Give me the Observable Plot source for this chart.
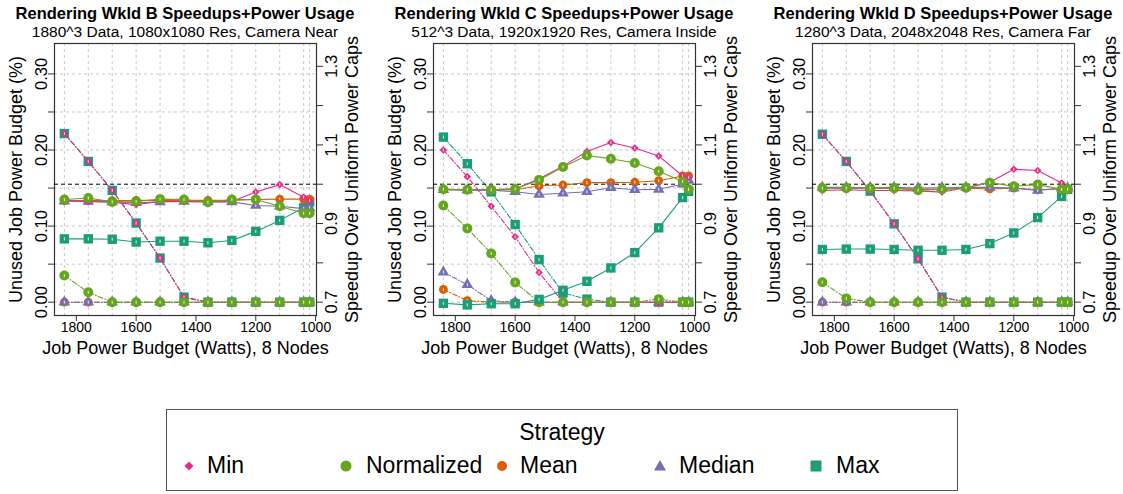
<!DOCTYPE html>
<html><head><meta charset="utf-8">
<script src="https://cdn.jsdelivr.net/npm/d3@7"></script>
<script src="https://cdn.jsdelivr.net/npm/@observablehq/plot@0.6"></script>
<style>
html,body{margin:0;padding:0;background:#fff;width:1123px;height:494px;overflow:hidden;font-family:"Liberation Sans",Arial,sans-serif;}
#root{position:relative;width:1123px;height:494px;}
.panel{position:absolute;top:0;width:364px;height:360px;}
.panel svg{position:absolute;left:0;top:0;}
.t1{position:absolute;left:-15px;width:400px;text-align:center;font-weight:bold;font-size:16.5px;line-height:18px;top:3.5px;white-space:nowrap;color:#000;}
.t2{position:absolute;left:-15px;width:400px;text-align:center;font-size:15.5px;line-height:18px;top:23px;white-space:nowrap;color:#000;}
#legend{position:absolute;left:166px;top:409px;width:790px;height:80px;border:1.5px solid #555;}
.lt{position:absolute;font-size:23px;line-height:26px;white-space:nowrap;color:#000;}
.ls{position:absolute;}
</style></head><body><div id="root"></div>
<script>
// ---------- data ----------
const watts = [1840, 1760, 1680, 1600, 1520, 1440, 1360, 1280, 1200, 1120, 1040, 1020];
const xTicks = [1800, 1600, 1400, 1200, 1000];
const leftTicks = [0, 0.05, 0.10, 0.15, 0.20, 0.25, 0.30];
const leftLabels = [0, 0.10, 0.20, 0.30];
const rightTicks = [0.7, 0.8, 0.9, 1.0, 1.1, 1.2, 1.3];
const rightLabels = [0.7, 0.9, 1.1, 1.3];
const strategies = ["Min", "Normalized", "Mean", "Median", "Max"];
const strategyColors = ["#E7298A", "#66A61E", "#D95F02", "#7570B3", "#1B9E77"];
const titles = ["Rendering Wkld B Speedups+Power Usage", "Rendering Wkld C Speedups+Power Usage", "Rendering Wkld D Speedups+Power Usage"];
const subtitles = ["1880^3 Data, 1080x1080 Res, Camera Near", "512^3 Data, 1920x1920 Res, Camera Inside", "1280^3 Data, 2048x2048 Res, Camera Far"];

// Workload B
const bSpeedMin  = [0.959, 0.956, 0.954, 0.948, 0.956, 0.956, 0.955, 0.956, 0.980, 0.999, 0.967, 0.959];
const bSpeedNorm = [0.961, 0.965, 0.955, 0.956, 0.962, 0.961, 0.954, 0.961, 0.961, 0.944, 0.926, 0.926];
const bSpeedMean = [0.958, 0.959, 0.958, 0.959, 0.959, 0.959, 0.959, 0.959, 0.961, 0.962, 0.962, 0.962];
const bSpeedMed  = [0.957, 0.956, 0.955, 0.953, 0.955, 0.956, 0.955, 0.955, 0.946, 0.944, 0.938, 0.940];
const bSpeedMax  = [0.861, 0.861, 0.860, 0.853, 0.855, 0.855, 0.851, 0.857, 0.880, 0.908, 0.940, 0.955];
const bUnusedMin  = [0.2216, 0.185, 0.147, 0.104, 0.058, 0.0066, 0, 0, 0, 0, 0, 0];
const bUnusedNorm = [0.035, 0.013, 0, 0, 0, 0, 0, 0, 0, 0, 0, 0];
const bUnusedMean = [0, 0, 0, 0, 0, 0, 0, 0, 0, 0, 0, 0];
const bUnusedMed  = [0, 0, 0, 0, 0, 0, 0, 0, 0, 0, 0, 0];
const bUnusedMax  = [0.2216, 0.185, 0.147, 0.104, 0.058, 0.0066, 0, 0, 0, 0, 0, 0];

// Workload C
const cSpeedMin  = [0.987, 0.986, 0.986, 0.988, 1.014, 1.046, 1.083, 1.106, 1.092, 1.072, 1.021, 1.018];
const cSpeedNorm = [0.987, 0.986, 0.986, 0.988, 1.011, 1.044, 1.073, 1.065, 1.054, 1.033, 1.007, 0.987];
const cSpeedMean = [0.987, 0.986, 0.986, 0.986, 0.996, 0.998, 1.004, 1.004, 1.005, 1.009, 1.021, 1.021];
const cSpeedMed  = [0.986, 0.985, 0.985, 0.981, 0.974, 0.977, 0.981, 0.991, 0.986, 0.987, 1.000, 1.010];
const cSpeedMax  = [0.697, 0.693, 0.696, 0.696, 0.707, 0.730, 0.753, 0.787, 0.826, 0.889, 0.966, 0.982];
const cUnusedMin  = [0.200, 0.165, 0.126, 0.086, 0.039, 0, 0, 0, 0, 0, 0, 0];
const cUnusedNorm = [0.127, 0.097, 0.064, 0.026, 0, 0, 0, 0, 0, 0.004, 0, 0];
const cUnusedMean = [0.0167, 0.002, 0, 0, 0, 0, 0, 0, 0, 0, 0, 0];
const cUnusedMed  = [0.0395, 0.023, 0.002, 0, 0, 0, 0, 0, 0, 0, 0, 0];
const cUnusedMax  = [0.217, 0.182, 0.145, 0.102, 0.056, 0.012, 0.004, 0, 0, 0, 0, 0];

// Workload D
const dSpeedMin  = [0.984, 0.986, 0.984, 0.984, 0.983, 0.980, 0.991, 1.005, 1.038, 1.035, 1.003, 0.988];
const dSpeedNorm = [0.990, 0.990, 0.990, 0.990, 0.985, 0.987, 0.991, 1.004, 0.995, 0.999, 0.987, 0.987];
const dSpeedMean = [0.990, 0.990, 0.989, 0.989, 0.987, 0.987, 0.990, 0.988, 0.990, 0.986, 0.988, 0.988];
const dSpeedMed  = [0.992, 0.992, 0.991, 0.992, 0.990, 0.991, 0.992, 0.992, 0.990, 0.984, 0.990, 0.990];
const dSpeedMax  = [0.834, 0.835, 0.835, 0.834, 0.832, 0.832, 0.834, 0.849, 0.876, 0.915, 0.969, 0.987];
const dUnusedMin  = [0.2207, 0.185, 0.146, 0.103, 0.057, 0.0066, 0, 0, 0, 0, 0, 0];
const dUnusedNorm = [0.0263, 0.005, 0, 0, 0, 0, 0, 0, 0, 0, 0, 0];
const dUnusedMean = [0, 0, 0, 0, 0, 0, 0, 0, 0, 0, 0, 0];
const dUnusedMed  = [0, 0, 0, 0, 0, 0, 0, 0, 0, 0, 0, 0];
const dUnusedMax  = [0.2207, 0.185, 0.146, 0.103, 0.057, 0.0066, 0, 0, 0, 0, 0, 0];

// ---------- build ----------
const panels = [
  {speed: [bSpeedMin, bSpeedNorm, bSpeedMean, bSpeedMed, bSpeedMax], unused: [bUnusedMin, bUnusedNorm, bUnusedMean, bUnusedMed, bUnusedMax]},
  {speed: [cSpeedMin, cSpeedNorm, cSpeedMean, cSpeedMed, cSpeedMax], unused: [cUnusedMin, cUnusedNorm, cUnusedMean, cUnusedMed, cUnusedMax]},
  {speed: [dSpeedMin, dSpeedNorm, dSpeedMean, dSpeedMed, dSpeedMax], unused: [dUnusedMin, dUnusedNorm, dUnusedMean, dUnusedMed, dUnusedMax]}
];

function hasFont(name) {
  const c = document.createElement("canvas").getContext("2d");
  c.font = "40px monospace";
  const a = c.measureText("abcdefghij1800").width;
  c.font = `40px "${name}", monospace`;
  const b = c.measureText("abcdefghij1800").width;
  return Math.abs(a - b) > 0.5;
}
const narrow = hasFont("Liberation Sans Narrow");
const tickFont = narrow ? '"Liberation Sans Narrow", "Liberation Sans", sans-serif' : '"Liberation Sans", Arial, sans-serif';
const xTickSize = narrow ? 17.5 : 14;
const yTickSize = narrow ? 21 : 16.5;

const symbolOf = {Min: "diamond2", Normalized: "circle", Mean: "circle", Median: "triangle", Max: "square"};
const rOf = {Min: 3.4, Normalized: 5, Mean: 4.4, Median: 4.3, Max: 5.3};
const whiteTick = {draw(ctx, size) { const r = Math.sqrt(size / Math.PI); ctx.moveTo(0, -r); ctx.lineTo(0, r); }};
const drawOrder = ["Max", "Mean", "Median", "Min", "Normalized"];

const W = 364, H = 360, ML = 54, MR = 48, MT = 43, MB = 45;
const xDomain = [1873, 997];
const leftDomain = [-0.0175, 0.340];
const rightDomain = [0.666, 1.358];

function seriesMarks(arrs, dash) {
  const out = [];
  for (const s of drawOrder) {
    const i = strategies.indexOf(s);
    const rows = watts.map((w, k) => ({w, v: arrs[i][k]}));
    out.push(Plot.line(rows, {x: "w", y: "v", stroke: strategyColors[i], strokeWidth: 1.1, strokeDasharray: dash}));
    out.push(Plot.dot(rows, {x: "w", y: "v", symbol: symbolOf[s], fill: strategyColors[i], stroke: null, r: rOf[s]}));
    out.push(Plot.dot(rows, {x: "w", y: "v", symbol: whiteTick, stroke: "white", strokeWidth: 1, strokeOpacity: 0.85, fill: null, r: 1.5}));
  }
  return out;
}

const root = document.getElementById("root");
panels.forEach((p, pi) => {
  const div = document.createElement("div");
  div.className = "panel";
  div.style.left = (379 * pi) + "px";
  root.appendChild(div);

  const common = {width: W, height: H, marginLeft: ML, marginRight: MR, marginTop: MT, marginBottom: MB,
    style: {background: "transparent", overflow: "visible", fontFamily: '"Liberation Sans", Arial, sans-serif', fontSize: "16px", color: "#000"}};

  const svg1 = Plot.plot({
    ...common,
    x: {domain: xDomain, axis: null},
    y: {domain: leftDomain, axis: null},
    marks: [
      Plot.gridX({ticks: watts, stroke: "#c8c8c8", strokeOpacity: 1, strokeDasharray: "3,3"}),
      Plot.gridY({ticks: leftTicks, stroke: "#c8c8c8", strokeOpacity: 1, strokeDasharray: "3,3"}),
      ...seriesMarks(p.unused, "5,2,1,2"),
      Plot.frame({stroke: "#333", strokeWidth: 1.2}),
      Plot.axisX({anchor: "bottom", ticks: xTicks, tickSize: 6, tickFormat: () => "", label: null, stroke: "#333"}),
      Plot.axisY({anchor: "left", ticks: leftTicks, tickSize: 6, tickFormat: () => "", label: null, stroke: "#333"}),
      Plot.text(xTicks, {x: d => d, text: d => String(d), frameAnchor: "bottom", dy: 6.5, lineAnchor: "top", fontSize: xTickSize, fontFamily: tickFont, fill: "#000"}),
      Plot.text(leftLabels, {y: d => d, text: d => d.toFixed(2), frameAnchor: "left", dx: -7.5, rotate: -90, textAnchor: "middle", lineAnchor: "bottom", fontSize: yTickSize, fontFamily: tickFont, fill: "#000"}),
      Plot.text(["Unused Job Power Budget (%)"], {text: d => d, frameAnchor: "left", dx: -38, rotate: -90, textAnchor: "middle", lineAnchor: "middle", fontSize: 18, fill: "#000"}),
      Plot.text(["Job Power Budget (Watts), 8 Nodes"], {text: d => d, frameAnchor: "bottom", dy: 33, textAnchor: "middle", lineAnchor: "middle", fontSize: 18, fill: "#000"})
    ]
  });
  div.appendChild(svg1);

  const svg2 = Plot.plot({
    ...common,
    x: {domain: xDomain, axis: null},
    y: {domain: rightDomain, axis: null},
    marks: [
      Plot.ruleY([1.0], {stroke: "#000", strokeDasharray: "4,3", strokeWidth: 1}),
      ...seriesMarks(p.speed, null),
      Plot.axisY({anchor: "right", ticks: rightTicks, tickSize: 6, tickFormat: () => "", label: null, stroke: "#333"}),
      Plot.text(rightLabels, {y: d => d, text: d => d.toFixed(1), frameAnchor: "right", dx: 8.5, rotate: -90, textAnchor: "middle", lineAnchor: "top", fontSize: yTickSize, fontFamily: tickFont, fill: "#000"}),
      Plot.text(["Speedup Over Uniform Power Caps"], {text: d => d, frameAnchor: "right", dx: 35.5, rotate: -90, textAnchor: "middle", lineAnchor: "middle", fontSize: 18, fill: "#000"})
    ]
  });
  div.appendChild(svg2);

  const t1 = document.createElement("div"); t1.className = "t1"; t1.textContent = titles[pi]; div.appendChild(t1);
  const t2 = document.createElement("div"); t2.className = "t2"; t2.textContent = subtitles[pi]; div.appendChild(t2);
});

// ---------- legend ----------
const legend = document.createElement("div");
legend.id = "legend";
root.appendChild(legend);
const lt = document.createElement("div");
lt.className = "lt"; lt.textContent = "Strategy";
lt.style.left = "0px"; lt.style.width = "790px"; lt.style.textAlign = "center"; lt.style.top = "9px";
legend.appendChild(lt);
const symX = [188, 345, 501, 659, 815];
const textX = [206, 365, 519, 678, 835];
const legendSymbolPaths = {
  Min: '<path d="M0,-4.5L4.5,0L0,4.5L-4.5,0Z"/>',
  Normalized: '<circle r="5.5"/>',
  Mean: '<circle r="5"/>',
  Median: '<path d="M0,-6L6,4.5L-6,4.5Z"/>',
  Max: '<rect x="-5.5" y="-5.5" width="11" height="11"/>'
};
strategies.forEach((s, i) => {
  const sv = document.createElementNS("http://www.w3.org/2000/svg", "svg");
  sv.setAttribute("width", 16); sv.setAttribute("height", 16);
  sv.setAttribute("viewBox", "-8 -8 16 16");
  sv.setAttribute("class", "ls");
  sv.style.left = (symX[i] - 166 - 8) + "px";
  sv.style.top = (465 - 409 - 8) + "px";
  sv.innerHTML = `<g fill="${strategyColors[i]}">${legendSymbolPaths[s]}</g>`;
  legend.appendChild(sv);
  const tx = document.createElement("div");
  tx.className = "lt"; tx.textContent = s;
  tx.style.left = (textX[i] - 166) + "px";
  tx.style.top = (465 - 409 - 14) + "px";
  legend.appendChild(tx);
});
</script>
</body></html>
